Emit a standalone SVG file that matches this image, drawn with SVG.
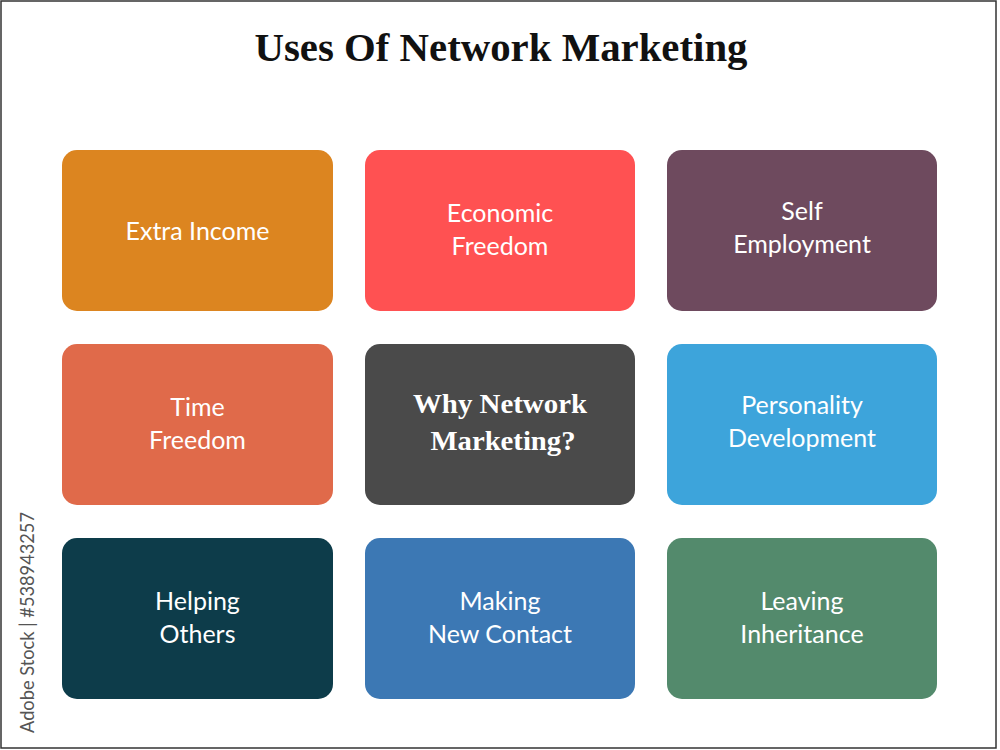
<svg xmlns="http://www.w3.org/2000/svg" width="1000" height="750" viewBox="0 0 1000 750">
<style>
.box{stroke:none}
.lbl{font-family:Lato,"Open Sans",sans-serif;font-size:25px;fill:#fff;text-anchor:middle}
.ctr{font-family:"Liberation Serif",serif;font-weight:bold;font-size:28px;fill:#fff;text-anchor:middle}
.title{font-family:"Liberation Serif",serif;font-weight:bold;font-size:41px;fill:#111;text-anchor:middle}
.wm{font-family:Lato,"Open Sans",sans-serif;font-size:20px;fill:#555}
</style>
<rect x="0" y="0" width="1000" height="750" fill="#fff"/>
<rect x="1" y="1" width="995" height="747" fill="none" stroke="#333" stroke-width="1.5"/>
<text class="title" x="501" y="61" textLength="493" lengthAdjust="spacingAndGlyphs">Uses Of Network Marketing</text>
<g id="connectors"></g>
<g id="extra-income">
<rect class="box" x="62" y="150" width="271" height="161" rx="15" fill="#DC8520"/>
<text class="lbl" x="197.5" y="240">Extra Income</text>
</g>
<g id="economic-freedom">
<rect class="box" x="365" y="150" width="270" height="161" rx="15" fill="#FF5152"/>
<text class="lbl" x="500" y="222">Economic</text>
<text class="lbl" x="500" y="255">Freedom</text>
</g>
<g id="self-employment">
<rect class="box" x="667" y="150" width="270" height="161" rx="15" fill="#6E4A5E"/>
<text class="lbl" x="802" y="220">Self</text>
<text class="lbl" x="802" y="253">Employment</text>
</g>
<g id="time-freedom">
<rect class="box" x="62" y="344" width="271" height="161" rx="15" fill="#E06A4A"/>
<text class="lbl" x="197.5" y="416">Time</text>
<text class="lbl" x="197.5" y="449">Freedom</text>
</g>
<g id="why-network-marketing">
<rect class="box" x="365" y="344" width="270" height="161" rx="15" fill="#4A4A4A"/>
<text class="ctr" x="500" y="413" textLength="174" lengthAdjust="spacingAndGlyphs">Why Network</text>
<text class="ctr" x="503" y="450" textLength="145" lengthAdjust="spacingAndGlyphs">Marketing?</text>
</g>
<g id="personality-development">
<rect class="box" x="667" y="344" width="270" height="161" rx="15" fill="#3DA4DB"/>
<text class="lbl" x="802" y="414">Personality</text>
<text class="lbl" x="802" y="447">Development</text>
</g>
<g id="helping-others">
<rect class="box" x="62" y="538" width="271" height="161" rx="15" fill="#0D3C4A"/>
<text class="lbl" x="197.5" y="610">Helping</text>
<text class="lbl" x="197.5" y="643">Others</text>
</g>
<g id="making-new-contact">
<rect class="box" x="365" y="538" width="270" height="161" rx="15" fill="#3C78B4"/>
<text class="lbl" x="500" y="610">Making</text>
<text class="lbl" x="500" y="643">New Contact</text>
</g>
<g id="leaving-inheritance">
<rect class="box" x="667" y="538" width="270" height="161" rx="15" fill="#538A6C"/>
<text class="lbl" x="802" y="610">Leaving</text>
<text class="lbl" x="802" y="643">Inheritance</text>
</g>
<text class="wm" transform="translate(34,733) rotate(-90)" textLength="221" lengthAdjust="spacingAndGlyphs">Adobe Stock | #538943257</text>
</svg>
